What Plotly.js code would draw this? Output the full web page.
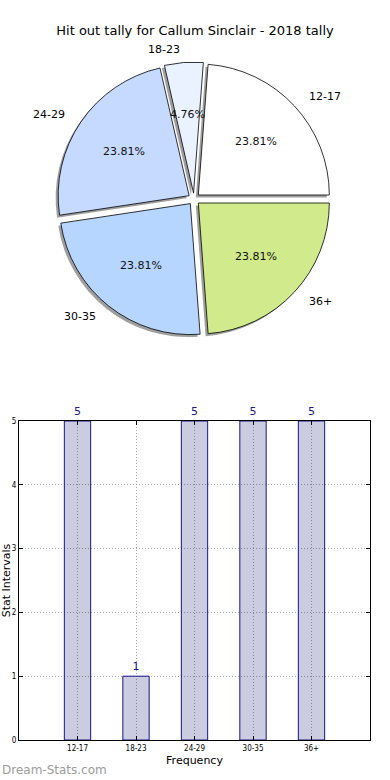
<!DOCTYPE html>
<html><head><meta charset="utf-8">
<script src="https://cdn.plot.ly/plotly-3.0.1.min.js"></script>
<style>html,body{margin:0;padding:0;background:#fff}#chart{width:390px;height:780px}</style>
</head><body><div id="chart"></div>
<script>
const categories = ["12-17", "18-23", "24-29", "30-35", "36+"];
const tallies = [5, 1, 5, 5, 5];
const sliceColors = ["#ffffff", "#eaf1ff", "#c6d9ff", "#b6d6ff", "#d1ea8b"];
const yTicks = [0, 1, 2, 3, 4, 5];
const chartTitle = "Hit out tally for Callum Sinclair - 2018 tally";

const W = 390, H = 780;
const font = "DejaVu Sans, Liberation Sans, sans-serif";
// pie geometry (pixels)
const cx = 194, cy = 199, r = 131, pull = 0.045;
const side = 2 * r * (1 + pull);
const dom = {x: [(cx - side/2)/W, (cx + side/2)/W], y: [1 - (cy + side/2)/H, 1 - (cy - side/2)/H]};
const sdx = -2.5, sdy = 2.5;
const shadowDom = {x: [dom.x[0] + sdx/W, dom.x[1] + sdx/W], y: [dom.y[0] - sdy/H, dom.y[1] - sdy/H]};

const total = tallies.reduce((a, b) => a + b, 0);
// first slice starts at 3 o'clock and runs counterclockwise
const pieRotation = 90 - 360 * tallies[0] / total;
const annotations = [];
let cum = 0;
tallies.forEach((v, i) => {
  const mid = (cum + v/2) / total * 2 * Math.PI; // counterclockwise from 3 o'clock
  cum += v;
  const c = Math.cos(mid), s = Math.sin(mid);
  const lx = cx + (1.13 + pull) * r * c, ly = cy - (1.1 + pull) * r * s;
  annotations.push({text: categories[i], x: lx/W, y: 1 - ly/H, xref: "paper", yref: "paper",
    showarrow: false, xanchor: c >= 0 ? "left" : "right", yanchor: "middle",
    font: {family: font, size: 11, color: "#000"}});
  const px = cx + (0.6 + pull) * r * c, py = cy - (0.6 + pull) * r * s;
  annotations.push({text: (v/total*100).toFixed(2) + "%", x: px/W, y: 1 - py/H, xref: "paper", yref: "paper",
    showarrow: false, xanchor: "center", yanchor: "middle",
    font: {family: font, size: 11, color: "#111"}});
});
annotations.push({text: "Dream-Stats.com", x: 0, y: 1 - 770/H, xref: "paper", yref: "paper",
  showarrow: false, xanchor: "left", yanchor: "middle", font: {family: font, size: 12, color: "#9c9c9c"}});

const traces = [
  {type: "pie", values: tallies, labels: categories, sort: false, direction: "counterclockwise", rotation: pieRotation,
   pull: tallies.map(() => pull), domain: shadowDom, textinfo: "none", hoverinfo: "skip", showlegend: false,
   marker: {colors: tallies.map(() => "rgba(80,80,80,0.55)"), line: {width: 0}}},
  {type: "pie", values: tallies, labels: categories, sort: false, direction: "counterclockwise", rotation: pieRotation,
   pull: tallies.map(() => pull), domain: dom, textinfo: "none", showlegend: false,
   marker: {colors: sliceColors, line: {color: "#000", width: 0.8}}},
  {type: "bar", x: categories, y: tallies, width: 0.45, text: tallies.map(String), textposition: "outside",
   cliponaxis: false, textfont: {family: font, size: 11, color: "#1a1a8c"}, showlegend: false,
   marker: {color: "rgba(0,0,100,0.2)", line: {color: "#14148a", width: 1}}}
];

const gridStyle = {showgrid: true, gridcolor: "#a8a8a8", griddash: "1px,2px", gridwidth: 1};
const layout = {
  width: W, height: H, margin: {l: 0, r: 0, t: 0, b: 0}, paper_bgcolor: "#fff", plot_bgcolor: "#fff",
  showlegend: false,
  title: {text: chartTitle, x: 0.5, xanchor: "center", y: 1 - 30/H, yanchor: "middle",
    font: {family: font, size: 13, color: "#000"}},
  xaxis: Object.assign({domain: [19/W, 370/W], type: "category", range: [-1, 5],
    showline: true, linecolor: "#000", linewidth: 1, mirror: "ticks",
    ticks: "inside", ticklen: 4, tickcolor: "#000", tickfont: {family: "DejaVu Sans Condensed, DejaVu Sans", size: 8, color: "#000"},
    title: {text: "Frequency", font: {family: font, size: 11, color: "#000"}, standoff: 4}, zeroline: false, fixedrange: true}, gridStyle),
  yaxis: Object.assign({domain: [1 - 740/H, 1 - 421/H], range: [0, 5], tickvals: yTicks,
    showline: true, linecolor: "#000", linewidth: 1, mirror: "ticks",
    ticks: "inside", ticklen: 4, tickcolor: "#000", tickfont: {family: "DejaVu Sans Condensed, DejaVu Sans", size: 8, color: "#000"},
    title: {text: "Stat Intervals", font: {family: font, size: 11, color: "#000"}, standoff: 0}, zeroline: false, fixedrange: true}, gridStyle),
  annotations: annotations
};
Plotly.newPlot("chart", traces, layout, {displayModeBar: false, staticPlot: true});
</script></body></html>
